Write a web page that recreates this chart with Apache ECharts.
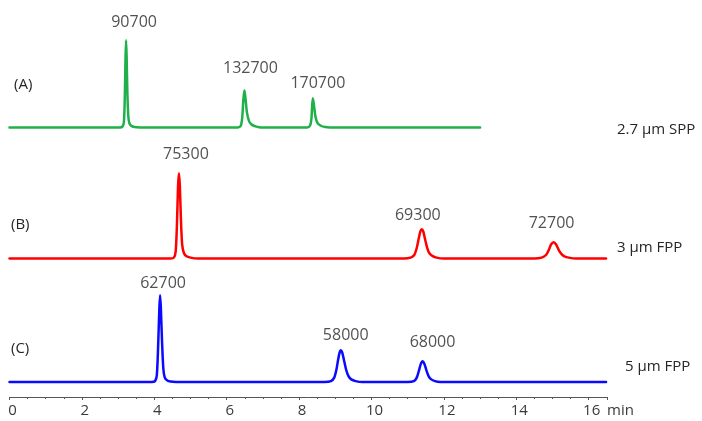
<!DOCTYPE html>
<html>
<head>
<meta charset="utf-8">
<script src="https://cdn.jsdelivr.net/npm/echarts@6/dist/echarts.min.js"></script>
<style>
  html, body { margin: 0; padding: 0; background: #fff; }
  #chart { width: 702px; height: 421px; }
</style>
</head>
<body>
<div id="chart"></div>
<script>
// Chromatogram traces: [retention time (min), detector signal (relative units)]
const traceA = [
  [0, 0], [3.05, 0], [3.12, 1], [3.16, 6], [3.185, 35], [3.205, 80], [3.22, 100], [3.235, 82], [3.255, 42], [3.28, 14], [3.31, 5], [3.36, 2], [3.45, 0.5], [3.6, 0],
  [6.30, 0], [6.39, 2], [6.43, 12], [6.46, 32], [6.49, 42.7], [6.52, 33], [6.56, 17], [6.62, 7], [6.70, 3], [6.82, 1], [6.95, 0],
  [8.22, 0], [8.30, 2], [8.34, 10], [8.36, 25], [8.38, 33.6], [8.41, 26], [8.45, 13], [8.51, 5], [8.60, 2], [8.72, 0.5], [8.85, 0],
  [13.0, 0]
];
const traceB = [
  [0, 0], [4.45, 0], [4.54, 1], [4.59, 8], [4.625, 38], [4.655, 82], [4.68, 97.7], [4.705, 84], [4.735, 45], [4.77, 16], [4.82, 6], [4.89, 2.5], [5.0, 1], [5.2, 0],
  [10.90, 0], [11.08, 1], [11.18, 4], [11.25, 12], [11.30, 22], [11.35, 31], [11.39, 33.6], [11.43, 31], [11.48, 22], [11.54, 12], [11.60, 6], [11.68, 3], [11.80, 1], [12.0, 0],
  [14.50, 0], [14.70, 1], [14.82, 4], [14.90, 10], [14.96, 16], [15.03, 18.7], [15.10, 16], [15.17, 10], [15.25, 5], [15.33, 2.5], [15.45, 1], [15.65, 0],
  [16.48, 0]
];
const traceC = [
  [0, 0], [3.92, 0], [4.02, 1], [4.07, 8], [4.105, 40], [4.14, 85], [4.16, 99.4], [4.18, 86], [4.215, 45], [4.25, 15], [4.29, 5], [4.35, 2], [4.45, 0.5], [4.6, 0],
  [8.70, 0], [8.88, 1], [8.97, 5], [9.03, 14], [9.08, 26], [9.12, 34], [9.15, 36.4], [9.19, 34], [9.24, 25], [9.30, 14], [9.36, 7], [9.44, 3], [9.56, 1], [9.75, 0],
  [11.0, 0], [11.17, 1], [11.25, 5], [11.31, 13], [11.36, 20.5], [11.41, 23.8], [11.46, 21], [11.52, 13], [11.58, 6.5], [11.65, 3], [11.75, 1], [11.9, 0],
  [16.48, 0]
];

// Peak apexes and plate counts
const peakTimesA = [3.22, 6.49, 8.38];
const peakHeightsA = [100, 42.7, 33.6];
const platesA = [90700, 132700, 170700];

const peakTimesB = [4.68, 11.39, 15.03];
const peakHeightsB = [97.7, 33.6, 18.7];
const platesB = [75300, 69300, 72700];

const peakTimesC = [4.16, 9.15, 11.41];
const peakHeightsC = [99.4, 36.4, 23.8];
const platesC = [62700, 58000, 68000];

const traceTags = ['(A)', '(B)', '(C)'];
const columnNames = ['2.7 \u00b5m SPP', '3 \u00b5m FPP', '5 \u00b5m FPP'];
const xTickStep = 2;
const xMax = 16.5;

// Layout / styling
const colors = ['#1fb04a', '#ff0000', '#0a0aff'];
const gridBaselines = [127.5, 258.5, 382];
const unitHeight = 87.3;          // pixels for 100 signal units
const axisDrop = 15;              // time axis sits this far below the last baseline
const plotLeft = 9.5;
const plotRight = 95.2;
const labelOffsets = [
  [[8, -18], [6, -22], [5, -15]],
  [[7, -19], [-4, -14], [-2, -19]],
  [[3, -12], [5, -15], [10, -19]]
];
const tagPos = [[14, 86], [11, 226], [11, 350]];
const namePos = [[617, 131], [617, 249], [625, 368]];
const font = '"Open Sans", "Noto Sans", sans-serif';
const textColor = '#262626';

const traces = [traceA, traceB, traceC];
const peaks = [
  [peakTimesA, peakHeightsA, platesA],
  [peakTimesB, peakHeightsB, platesB],
  [peakTimesC, peakHeightsC, platesC]
];

const grids = gridBaselines.map((b, i) => ({
  left: plotLeft,
  right: plotRight,
  top: b - unitHeight,
  height: unitHeight + (i === 2 ? axisDrop : 0)
}));

const xAxes = grids.map((g, i) => ({
  type: 'value',
  gridIndex: i,
  min: 0,
  max: xMax,
  interval: xTickStep,
  show: i === 2,
  axisLine: { show: true, onZero: false, lineStyle: { color: '#555', width: 1 } },
  axisTick: { show: true, length: 3, lineStyle: { color: '#555' } },
  minorTick: { show: true, splitNumber: 4, length: 2, lineStyle: { color: '#555' } },
  splitLine: { show: false },
  axisLabel: {
    color: '#3a3a3a',
    fontFamily: font,
    fontSize: 15,
    margin: 6,
    padding: [0, 0, 0, 6],
    formatter: v => (v % xTickStep === 0 ? String(v) : '')
  }
}));

const yAxes = grids.map((g, i) => ({
  type: 'value',
  gridIndex: i,
  min: i === 2 ? -100 * axisDrop / unitHeight : 0,
  max: 100,
  show: false
}));

const series = [];
traces.forEach((tr, i) => {
  series.push({
    type: 'line',
    xAxisIndex: i,
    yAxisIndex: i,
    data: tr,
    showSymbol: false,
    smooth: 0.25,
    clip: false,
    lineStyle: { color: colors[i], width: 2.5, join: 'round', cap: 'round' },
    silent: true,
    animation: false
  });
  const [t, h, n] = peaks[i];
  series.push({
    type: 'scatter',
    xAxisIndex: i,
    yAxisIndex: i,
    symbolSize: 0,
    clip: false,
    silent: true,
    animation: false,
    data: t.map((tt, k) => ({
      value: [tt, h[k]],
      label: { offset: labelOffsets[i][k] }
    })),
    label: {
      show: true,
      position: 'inside',
      color: textColor,
      fontFamily: font,
      fontSize: 16,
      formatter: p => String(n[p.dataIndex])
    }
  });
});

const graphic = [];
traceTags.forEach((tag, i) => {
  graphic.push({
    type: 'text', left: tagPos[i][0], top: tagPos[i][1] - 9,
    style: { text: tag, fill: textColor, font: '15px ' + font }
  });
  graphic.push({
    type: 'text', left: namePos[i][0], top: namePos[i][1] - 9,
    style: { text: columnNames[i], fill: textColor, font: '15px ' + font }
  });
});
graphic.push({
  type: 'text', left: 607, top: 403,
  style: { text: 'min', fill: '#3a3a3a', font: '15px ' + font }
});

const chart = echarts.init(document.getElementById('chart'));
chart.setOption({
  animation: false,
  grid: grids,
  xAxis: xAxes,
  yAxis: yAxes,
  series: series,
  graphic: graphic
});
</script>
</body>
</html>
